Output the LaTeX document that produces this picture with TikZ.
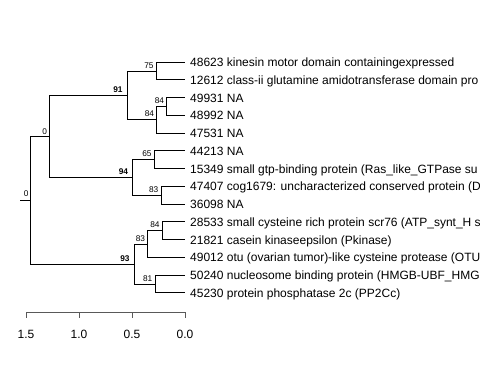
\documentclass[tikz,border=0pt]{standalone}
\usepackage{fontspec}
\setmainfont{Liberation Sans}
\begin{document}
\begin{tikzpicture}[x=1pt,y=-1pt,
  br/.style={line width=0.75pt,draw=black},
  leaf/.style={anchor=base west,inner sep=0pt,font=\fontsize{12}{14}\selectfont},
  bl/.style={anchor=south east,inner sep=0pt,font=\fontsize{8.3}{10}\selectfont},
  blb/.style={bl,font=\fontsize{8.3}{10}\selectfont\bfseries},
  ax/.style={line width=0.9pt,draw=black!65},
  axl/.style={anchor=base,inner sep=0pt,font=\fontsize{12}{14}\selectfont}]
\clip (0,0) rectangle (480,384);
\useasboundingbox (0,0) rectangle (480,384);
% tips
\coordinate (l1) at (185,62);
\coordinate (l2) at (185,79.75);
\coordinate (l3) at (185,97.5);
\coordinate (l4) at (185,115.25);
\coordinate (l5) at (185,133);
\coordinate (l6) at (185,150.75);
\coordinate (l7) at (185,168.5);
\coordinate (l8) at (185,186.25);
\coordinate (l9) at (185,204);
\coordinate (l10) at (185,221.75);
\coordinate (l11) at (185,239.5);
\coordinate (l12) at (185,257.25);
\coordinate (l13) at (185,275);
\coordinate (l14) at (185,292.75);
% internal nodes
\coordinate (n75) at (156.3,70.875);
\coordinate (n84a) at (166.7,106.375);
\coordinate (n84b) at (156.7,119.69);
\coordinate (n91) at (127.3,95.28);
\coordinate (n65) at (154.3,159.625);
\coordinate (n83a) at (161,195.125);
\coordinate (n94) at (132.7,177.375);
\coordinate (n0a) at (49.3,136.33);
\coordinate (n84c) at (162.3,230.625);
\coordinate (n83b) at (147.7,243.94);
\coordinate (n81) at (155,283.875);
\coordinate (n93) at (134.3,263.9);
\coordinate (root) at (30.7,200.1);
\coordinate (stub) at (20,200.1);
% branches
\draw[br] (n75) |- (l1); \draw[br] (n75) |- (l2);
\draw[br] (n84a) |- (l3); \draw[br] (n84a) |- (l4);
\draw[br] (n84b) |- (n84a); \draw[br] (n84b) |- (l5);
\draw[br] (n91) |- (n75); \draw[br] (n91) |- (n84b);
\draw[br] (n65) |- (l6); \draw[br] (n65) |- (l7);
\draw[br] (n83a) |- (l8); \draw[br] (n83a) |- (l9);
\draw[br] (n94) |- (n65); \draw[br] (n94) |- (n83a);
\draw[br] (n0a) |- (n91); \draw[br] (n0a) |- (n94);
\draw[br] (n84c) |- (l10); \draw[br] (n84c) |- (l11);
\draw[br] (n83b) |- (n84c); \draw[br] (n83b) |- (l12);
\draw[br] (n81) |- (l13); \draw[br] (n81) |- (l14);
\draw[br] (n93) |- (n83b); \draw[br] (n93) |- (n81);
\draw[br] (root) |- (n0a); \draw[br] (root) |- (n93);
\draw[br] (stub) -- (root);
% branch labels
\node[bl] (b75) at ([xshift=-2.5pt,yshift=2.5pt]n75) {75};
\node[bl] (b84a) at ([xshift=-2.5pt,yshift=2.5pt]n84a) {84};
\node[bl] (b84b) at ([xshift=-2.5pt,yshift=2.5pt]n84b) {84};
\node[blb] (b91) at ([xshift=-4.5pt,yshift=2.5pt]n91) {91};
\node[bl] (b65) at ([xshift=-2.5pt,yshift=2.5pt]n65) {65};
\node[bl] (b83a) at ([xshift=-2.5pt,yshift=2.5pt]n83a) {83};
\node[blb] (b94) at ([xshift=-4.5pt,yshift=2.5pt]n94) {94};
\node[bl] (b0a) at ([xshift=-2pt,yshift=2pt]n0a) {0};
\node[bl] (b84c) at ([xshift=-2.5pt,yshift=2.5pt]n84c) {84};
\node[bl] (b83b) at ([xshift=-2.5pt,yshift=2.5pt]n83b) {83};
\node[bl] (b81) at ([xshift=-2.5pt,yshift=2.5pt]n81) {81};
\node[blb] (b93) at ([xshift=-4.5pt,yshift=2.5pt]n93) {93};
\node[bl] (b0r) at ([xshift=-2pt,yshift=3.5pt]root) {0};
% leaf labels
\node[leaf] (t1) at ([xshift=5pt,yshift=-4.5pt]l1) {48623 kinesin motor domain containingexpressed};
\node[leaf] (t2) at ([xshift=5pt,yshift=-4.5pt]l2) {12612 class-ii glutamine amidotransferase domain pro};
\node[leaf] (t3) at ([xshift=5pt,yshift=-4.5pt]l3) {49931 NA};
\node[leaf] (t4) at ([xshift=5pt,yshift=-4.5pt]l4) {48992 NA};
\node[leaf] (t5) at ([xshift=5pt,yshift=-4.5pt]l5) {47531 NA};
\node[leaf] (t6) at ([xshift=5pt,yshift=-4.5pt]l6) {44213 NA};
\node[leaf] (t7) at ([xshift=5pt,yshift=-4.5pt]l7) {15349 small gtp-binding protein (Ras\_like\_GTPase su};
\node[leaf] (t8) at ([xshift=5pt,yshift=-4.5pt]l8) {47407 cog1679: uncharacterized conserved protein (D};
\node[leaf] (t9) at ([xshift=5pt,yshift=-4.5pt]l9) {36098 NA};
\node[leaf] (t10) at ([xshift=5pt,yshift=-4.5pt]l10) {28533 small cysteine rich protein scr76 (ATP\_synt\_H s};
\node[leaf] (t11) at ([xshift=5pt,yshift=-4.5pt]l11) {21821 casein kinaseepsilon (Pkinase)};
\node[leaf] (t12) at ([xshift=5pt,yshift=-4.5pt]l12) {49012 otu (ovarian tumor)-like cysteine protease (OTU};
\node[leaf] (t13) at ([xshift=5pt,yshift=-4.5pt]l13) {50240 nucleosome binding protein (HMGB-UBF\_HMG};
\node[leaf] (t14) at ([xshift=5pt,yshift=-4.5pt]l14) {45230 protein phosphatase 2c (PP2Cc)};
% axis
\coordinate (a15) at (26,312);
\coordinate (a10) at (79,312);
\coordinate (a05) at (132,312);
\coordinate (a00) at (185,312);
\draw[ax] (a15) -- (a00);
\foreach \p/\t in {a15/1.5,a10/1.0,a05/0.5,a00/0.0}{
  \draw[ax] (\p) -- ++(0,6);
  \node[axl] (lab\p) at ([yshift=-26.5pt]\p) {\t};
}
\end{tikzpicture}
\end{document}
